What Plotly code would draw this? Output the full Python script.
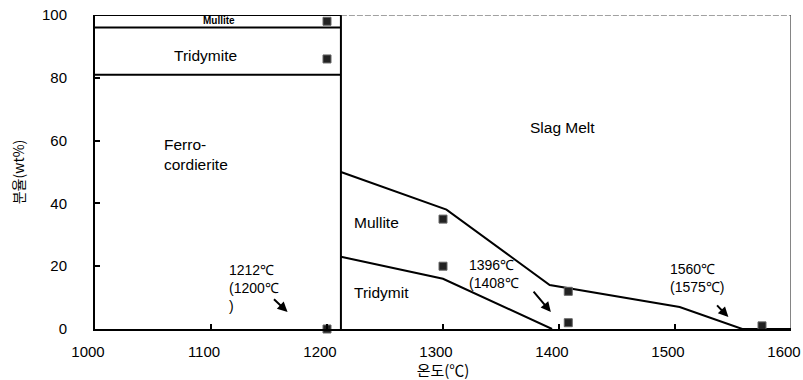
import plotly.graph_objects as go

# ---------------- data ----------------
x_ticks = [1000, 1100, 1200, 1300, 1400, 1500, 1600]
y_ticks = [0, 20, 40, 60, 80, 100]

divider_T = 1212            # boundary between the solid region and the melt region
left_ferro_top = 81         # Ferro-cordierite / Tridymite boundary (left region)
left_trid_top = 96          # Tridymite / Mullite boundary (left region)
top_value = 100

upper_T = [1212, 1303, 1392, 1504, 1558, 1600]   # Mullite / Slag-melt boundary
upper_v = [50, 38, 14, 7, 0, 0]
lower_T = [1212, 1300, 1394]                      # Tridymite / Mullite boundary
lower_v = [23, 16, 0]

marker_T = [1200, 1200, 1200, 1300, 1300, 1408, 1408, 1575]
marker_v = [98, 86, 0, 35, 20, 12, 2, 1]

region_labels = ["<b>Mullite</b>", "Tridymite", "Ferro-<br>cordierite", "Slag Melt", "Mullite", "Tridymit"]
temp_labels = ["1212℃<br>(1200℃<br>)", "1396℃<br>(1408℃", "1560℃<br>(1575℃)"]

# ---------------- layout helpers (positions) ----------------
region_pos = [(1107, 98.2, "center", 10), (1095, 87, "center", 15.5),
              (1058, 55.7, "left", 15.5), (1403, 64.3, "center", 15.5),
              (1243, 34, "center", 15.5), (1247, 11.6, "center", 15.5)]
temp_pos = [(1114, 13), (1321, 17.5), (1494, 16.4)]
arrows = [((1153, 9.9), (1166, 5.4)), ((1377, 12.4), (1393, 5.4)), ((1535, 8), (1546, 3.8))]

FONT = "Liberation Sans, Arial, sans-serif"
KFONT = "Noto Sans CJK KR, sans-serif"

fig = go.Figure()

line_style = dict(color="black", width=2)

# left-region boxes
fig.add_trace(go.Scatter(x=[x_ticks[0], divider_T], y=[left_ferro_top, left_ferro_top],
                         mode="lines", line=line_style, hoverinfo="skip"))
fig.add_trace(go.Scatter(x=[x_ticks[0], divider_T], y=[left_trid_top, left_trid_top],
                         mode="lines", line=line_style, hoverinfo="skip"))
fig.add_trace(go.Scatter(x=[x_ticks[0], divider_T], y=[top_value, top_value],
                         mode="lines", line=line_style, hoverinfo="skip", cliponaxis=False))
# divider
fig.add_trace(go.Scatter(x=[divider_T, divider_T], y=[0, top_value],
                         mode="lines", line=line_style, hoverinfo="skip", cliponaxis=False))
# right-region top and right borders (faint in the scan)
fig.add_trace(go.Scatter(x=[divider_T, x_ticks[-1]], y=[top_value, top_value],
                         mode="lines", line=dict(color="#444", width=1.2, dash="6px,2px"),
                         hoverinfo="skip", cliponaxis=False))
fig.add_trace(go.Scatter(x=[x_ticks[-1], x_ticks[-1]], y=[0, top_value],
                         mode="lines", line=dict(color="#444", width=1.3),
                         hoverinfo="skip", cliponaxis=False))
# phase boundaries
fig.add_trace(go.Scatter(x=upper_T, y=upper_v, mode="lines", line=line_style, hoverinfo="skip",
                         cliponaxis=False))
fig.add_trace(go.Scatter(x=lower_T, y=lower_v, mode="lines", line=line_style, hoverinfo="skip",
                         cliponaxis=False))
# experimental points
fig.add_trace(go.Scatter(x=marker_T, y=marker_v, mode="markers",
                         marker=dict(symbol="square", size=8, color="#222",
                                     line=dict(color="#666", width=1)),
                         hoverinfo="skip", cliponaxis=False))

annotations = []
for text, (x, y, align, size) in zip(region_labels, region_pos):
    annotations.append(dict(x=x, y=y, xref="x", yref="y", text=text, showarrow=False,
                            xanchor=align, yanchor="middle", align="left",
                            font=dict(family=FONT, size=size, color="black")))
for text, (x, y) in zip(temp_labels, temp_pos):
    annotations.append(dict(x=x, y=y, xref="x", yref="y", text=text, showarrow=False,
                            xanchor="left", yanchor="middle", align="left",
                            font=dict(family=FONT, size=14, color="black")))
for (tail, head) in arrows:
    annotations.append(dict(x=head[0], y=head[1], ax=tail[0], ay=tail[1],
                            xref="x", yref="y", axref="x", ayref="y", text="",
                            showarrow=True, arrowhead=2, arrowsize=1, arrowwidth=2,
                            arrowcolor="black"))

fig.update_layout(
    width=803, height=380,
    margin=dict(l=95, r=12, t=15, b=51),
    paper_bgcolor="white", plot_bgcolor="white",
    showlegend=False,
    annotations=annotations,
    font=dict(family=FONT, size=15, color="black"),
    xaxis=dict(range=[1000, 1600], tickvals=x_ticks,
               showgrid=False, zeroline=False,
               showline=True, linecolor="black", linewidth=2, automargin=False,
               ticks="inside", ticklen=5, tickwidth=1.5, tickcolor="black",
               tickfont=dict(family=FONT, size=15), ticklabelstandoff=8,
               ticklabelshift=-7, ticklabeloverflow="allow",
               title=dict(text="온도(℃)", font=dict(family=KFONT, size=15), standoff=6)),
    yaxis=dict(range=[0, 100], tickvals=y_ticks, showgrid=False, zeroline=False,
               showline=True, linecolor="black", linewidth=2, automargin=False,
               ticks="inside", ticklen=5, tickwidth=1.5, tickcolor="black",
               tickfont=dict(family=FONT, size=15), ticklabelstandoff=23,
               title=dict(text="분율(wt%)", font=dict(family=KFONT, size=14), standoff=14)),
)

fig.write_html("out.html")
